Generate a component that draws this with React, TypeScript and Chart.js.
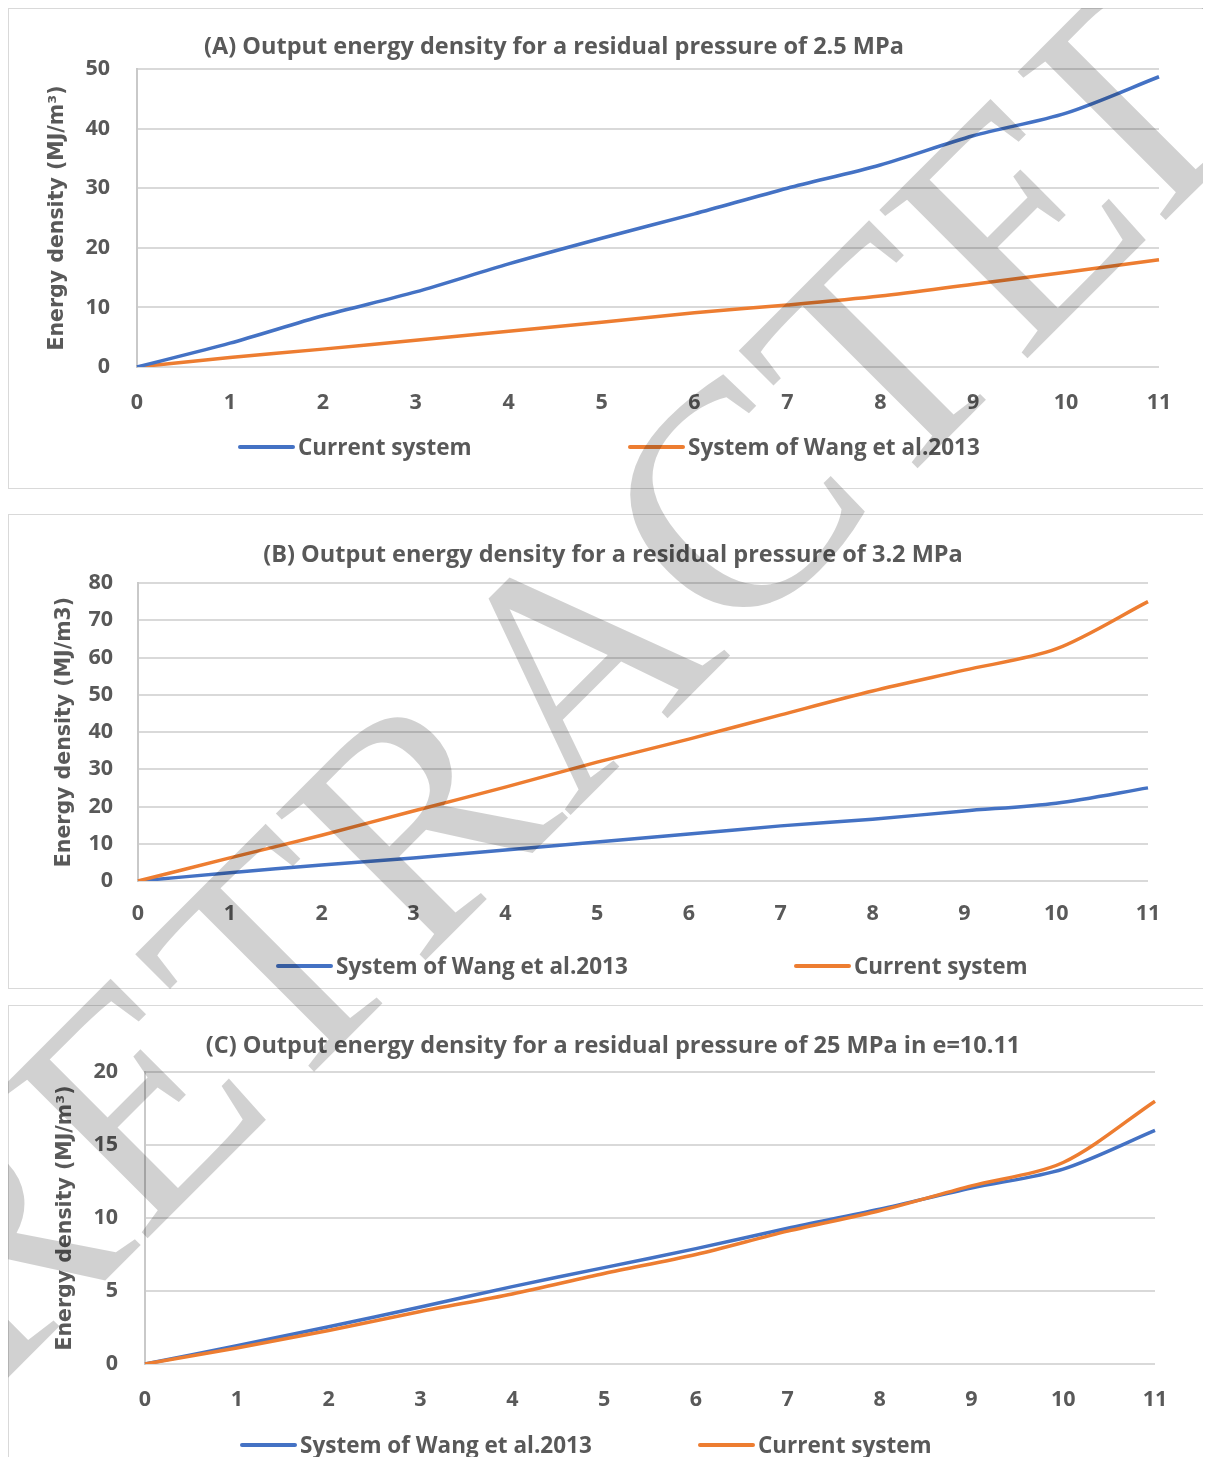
import React, { useEffect, useRef } from 'react';
import { Chart, registerables } from 'chart.js';

Chart.register(...registerables);

// ---------- data ----------
const xLabels = ['0', '1', '2', '3', '4', '5', '6', '7', '8', '9', '10', '11'];

// (A) residual pressure 2.5 MPa
const aCurrent = [0, 4.0, 8.6, 12.6, 17.3, 21.6, 25.7, 30.0, 33.9, 38.8, 42.6, 48.7];
const aWang = [0, 1.6, 3.0, 4.5, 6.0, 7.5, 9.1, 10.4, 11.9, 13.9, 15.9, 18.0];

// (B) residual pressure 3.2 MPa
const bWang = [0, 2.2, 4.3, 6.2, 8.3, 10.5, 12.6, 14.8, 16.6, 18.8, 20.9, 25.0];
const bCurrent = [0, 6.2, 12.3, 18.8, 25.2, 31.9, 38.1, 44.6, 51.0, 56.6, 62.3, 75.0];

// (C) residual pressure 25 MPa, e=10.11
const cWang = [0, 1.25, 2.55, 3.9, 5.3, 6.6, 7.9, 9.3, 10.6, 12.05, 13.35, 16.0];
const cCurrent = [0, 1.1, 2.3, 3.6, 4.8, 6.2, 7.5, 9.1, 10.5, 12.2, 13.8, 18.0];

const titleA = '(A) Output energy density for a residual pressure of 2.5 MPa';
const titleB = '(B) Output energy density for a residual pressure of 3.2 MPa';
const titleC = '(C) Output energy density for a residual pressure of 25 MPa in e=10.11';
const yTitleA = 'Energy density (MJ/m³)';
const yTitleB = 'Energy density (MJ/m3)';
const yTitleC = 'Energy density (MJ/m³)';
const labelCurrent = 'Current system';
const labelWang = 'System of Wang et al.2013';

// ---------- styles ----------
const BLUE = '#4472C4';
const ORANGE = '#ED7D31';
const TEXT = '#595959';
const GRID = '#d9d9d9';
const FONT = '"Open Sans", Lato, sans-serif';

type DS = { label: string; data: number[]; color: string };

type ChartProps = {
  width: number;
  height: number;
  l: number;
  r: number;
  t: number;
  b: number;
  yMax: number;
  yStep: number;
  yTitle: string;
  yTitleX: number;
  yTickPad: number;
  xTickPad: number;
  datasets: DS[];
};

function LineChart(p: ChartProps) {
  const ref = useRef<HTMLCanvasElement>(null);
  useEffect(() => {
    const tickFont = { family: FONT, size: 21.5, weight: 'bold' as const };
    const chart = new Chart(ref.current!, {
      type: 'line',
      data: {
        labels: xLabels,
        datasets: p.datasets.map((d) => ({
          label: d.label,
          data: d.data,
          borderColor: d.color,
          backgroundColor: d.color,
          borderWidth: 3.5,
          pointRadius: 0,
          tension: 0.3,
          fill: false,
        })),
      },
      options: {
        responsive: false,
        maintainAspectRatio: false,
        animation: false,
        layout: { padding: { left: 0, top: p.t, right: p.width - p.r, bottom: 0 } },
        plugins: {
          legend: { display: false },
          title: { display: false },
          tooltip: { enabled: false },
        },
        scales: {
          x: {
            type: 'category',
            offset: false,
            grid: { display: false, drawTicks: false },
            border: { display: false },
            ticks: {
              color: TEXT,
              font: tickFont,
              padding: p.xTickPad,
              maxRotation: 0,
              autoSkip: false,
            },
            afterFit: (s: any) => {
              s.height = p.height - p.b;
            },
          },
          y: {
            min: 0,
            max: p.yMax,
            ticks: { stepSize: p.yStep, color: TEXT, font: tickFont, padding: p.yTickPad },
            grid: { color: GRID, lineWidth: 2, drawTicks: false },
            border: { display: true, color: '#c9c9c9', width: 2 },
            title: {
              display: true,
              text: p.yTitle,
              color: TEXT,
              font: { family: '"DejaVu Sans", sans-serif', size: 20.5, weight: 'bold' },
              padding: { top: p.yTitleX - 12.3, bottom: 0 },
            },
            afterFit: (s: any) => {
              s.width = p.l;
            },
          },
        },
      },
    } as any);
    return () => chart.destroy();
  }, []);
  return (
    <canvas
      ref={ref}
      width={p.width}
      height={p.height}
      style={{ position: 'absolute', left: 0, top: 0, width: p.width, height: p.height }}
    />
  );
}

type LegendItem = { label: string; color: string; x: number };

function Legend({ items, y }: { items: LegendItem[]; y: number }) {
  return (
    <>
      {items.map((it) => (
        <div
          key={it.label}
          style={{
            position: 'absolute',
            left: it.x,
            top: y,
            transform: 'translateY(-50%)',
            display: 'flex',
            alignItems: 'center',
            whiteSpace: 'nowrap',
          }}
        >
          <div style={{ width: 57, height: 4, borderRadius: 2, background: it.color }} />
          <span
            style={{
              marginLeft: 3,
              fontFamily: FONT,
              fontWeight: 700,
              fontSize: 22.5,
              color: TEXT,
              lineHeight: '28px',
            }}
          >
            {it.label}
          </span>
        </div>
      ))}
    </>
  );
}

function Title({ text, x, y }: { text: string; x: number; y: number }) {
  return (
    <div
      style={{
        position: 'absolute',
        left: x,
        top: y,
        transform: 'translate(-50%, -50%)',
        whiteSpace: 'nowrap',
        fontFamily: FONT,
        fontWeight: 700,
        fontSize: 23.5,
        color: TEXT,
        lineHeight: '28px',
      }}
    >
      {text}
    </div>
  );
}

function Panel({ top, height, children }: { top: number; height: number; children: React.ReactNode }) {
  return (
    <div
      style={{
        position: 'absolute',
        left: 0,
        top,
        width: 1240,
        height,
        boxSizing: 'border-box',
        border: '1px solid #d9d9d9',
        background: '#fff',
        overflow: 'hidden',
      }}
    >
      {children}
    </div>
  );
}

export default function App() {
  return (
    <div style={{ position: 'relative', width: 1203, height: 1449, overflow: 'hidden', background: '#fff' }}>
      <style>{'html,body{overflow:hidden;background:#fff}'}</style>
      <Panel top={0} height={481}>
        <LineChart
          width={1200}
          height={479}
          l={128}
          r={1150}
          t={60}
          b={358}
          yMax={50}
          yStep={10}
          yTitle={yTitleA}
          yTitleX={49}
          yTickPad={27}
          xTickPad={23}
          datasets={[
            { label: labelCurrent, data: aCurrent, color: BLUE },
            { label: labelWang, data: aWang, color: ORANGE },
          ]}
        />
        <Title text={titleA} x={545} y={36} />
        <Legend
          y={438}
          items={[
            { label: labelCurrent, color: BLUE, x: 229 },
            { label: labelWang, color: ORANGE, x: 619 },
          ]}
        />
      </Panel>
      <Panel top={506} height={475}>
        <LineChart
          width={1200}
          height={473}
          l={129}
          r={1139}
          t={68}
          b={366}
          yMax={80}
          yStep={10}
          yTitle={yTitleB}
          yTitleX={56}
          yTickPad={25}
          xTickPad={20}
          datasets={[
            { label: labelCurrent, data: bCurrent, color: ORANGE },
            { label: labelWang, data: bWang, color: BLUE },
          ]}
        />
        <Title text={titleB} x={604} y={38} />
        <Legend
          y={451}
          items={[
            { label: labelWang, color: BLUE, x: 267 },
            { label: labelCurrent, color: ORANGE, x: 785 },
          ]}
        />
      </Panel>
      <Panel top={997} height={500}>
        <LineChart
          width={1200}
          height={460}
          l={136}
          r={1146}
          t={66}
          b={358}
          yMax={20}
          yStep={5}
          yTitle={yTitleC}
          yTitleX={57}
          yTickPad={27}
          xTickPad={23}
          datasets={[
            { label: labelCurrent, data: cCurrent, color: ORANGE },
            { label: labelWang, data: cWang, color: BLUE },
          ]}
        />
        <Title text={titleC} x={604} y={38} />
        <Legend
          y={439}
          items={[
            { label: labelWang, color: BLUE, x: 231 },
            { label: labelCurrent, color: ORANGE, x: 689 },
          ]}
        />
      </Panel>
      <div
        style={{
          position: 'absolute',
          left: 572,
          top: 645,
          transform: 'translate(-50%, -50%) rotate(-45deg)',
          whiteSpace: 'nowrap',
          fontFamily: '"Liberation Serif", "DejaVu Serif", serif',
          fontSize: 320,
          lineHeight: 1,
          color: 'rgba(0,0,0,0.18)',
          pointerEvents: 'none',
        }}
      >
        RETRACTED
      </div>
    </div>
  );
}
